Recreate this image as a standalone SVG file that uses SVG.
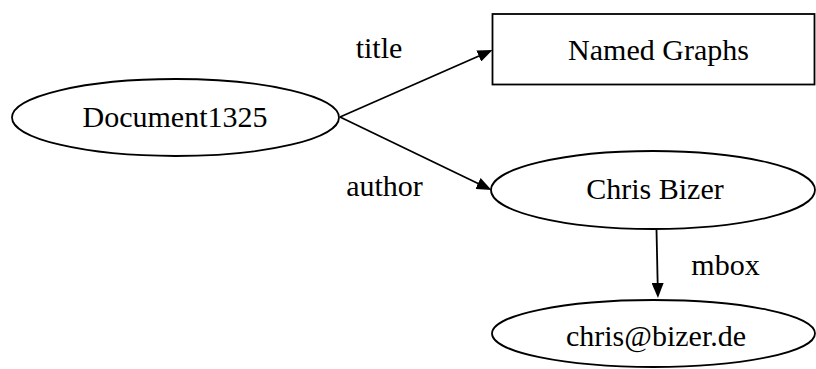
<svg xmlns="http://www.w3.org/2000/svg" width="816" height="369" viewBox="0 0 816 369">
<style>
.shape{fill:#fff;stroke:#000;stroke-width:1.8}
.edge{fill:none;stroke:#000;stroke-width:1.8}
text{font-family:"Liberation Serif","Times New Roman",serif;font-size:30px;fill:#000}
.c{text-anchor:middle}
</style>
<defs>
<marker id="ah" viewBox="0 0 15 12" markerWidth="15" markerHeight="12" refX="7" refY="6" orient="auto" markerUnits="userSpaceOnUse">
<path d="M0,0 L15,6 L0,12 z" fill="#000"/>
</marker>
</defs>
<rect width="816" height="369" fill="#fff"/>
<g id="connectors">
<line class="edge" x1="340" y1="117" x2="485.2" y2="53.2" marker-end="url(#ah)"/>
<line class="edge" x1="340" y1="117" x2="484.3" y2="186.5" marker-end="url(#ah)"/>
<line class="edge" x1="656.5" y1="229.5" x2="657.8" y2="290" marker-end="url(#ah)"/>
<text class="c" x="379" y="58">title</text>
<text class="c" x="384.5" y="196">author</text>
<text class="c" x="725.5" y="275">mbox</text>
</g>
<g id="document1325">
<ellipse class="shape" cx="175.5" cy="117.5" rx="163.5" ry="38.5"/>
<text class="c" x="175" y="127">Document1325</text>
</g>
<g id="named-graphs">
<rect class="shape" x="492.5" y="14" width="322" height="70.5"/>
<text class="c" x="658.5" y="60">Named Graphs</text>
</g>
<g id="chris-bizer">
<ellipse class="shape" cx="653" cy="190" rx="162" ry="39"/>
<text class="c" x="655" y="199">Chris Bizer</text>
</g>
<g id="chris-mail">
<ellipse class="shape" cx="653.5" cy="333.5" rx="161.5" ry="33.5"/>
<text class="c" x="656" y="346">chris@bizer.de</text>
</g>
</svg>
